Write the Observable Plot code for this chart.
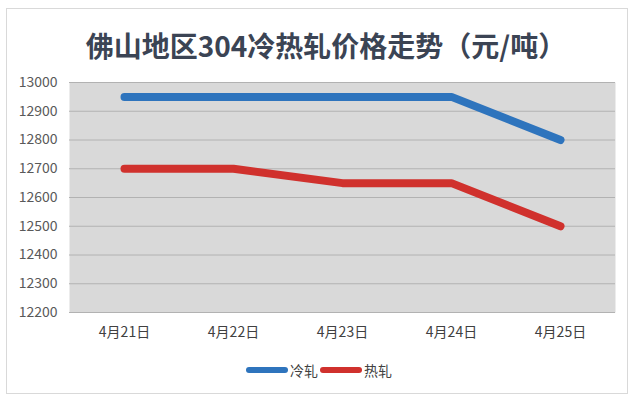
<!DOCTYPE html>
<html>
<head>
<meta charset="utf-8">
<script src="https://cdn.jsdelivr.net/npm/d3@7"></script>
<script src="https://cdn.jsdelivr.net/npm/@observablehq/plot@0.6"></script>
<style>
  html, body { margin: 0; padding: 0; background: #ffffff; }
  #wrap { position: relative; width: 640px; height: 397px; overflow: hidden; font-family: "Noto Sans CJK SC", "Noto Sans", sans-serif; }
  #box { position: absolute; left: 6px; top: 8px; width: 620px; height: 384px; border: 1px solid #d9d9d9; background: #fff; }
  #title { position: absolute; left: 6px; width: 640px; top: 25px; text-align: center; font-size: 28px; font-weight: 700; color: #3b4454; line-height: 40px; }
  #chart { position: absolute; left: 0; top: 70px; }
  #legend { position: absolute; top: 360px; left: 0; width: 640px; display: flex; justify-content: center; align-items: center; font-size: 14px; color: #404040; }
  .sw { display: inline-block; width: 42px; height: 6px; border-radius: 3px; margin-right: 2px; }
  .item { display: flex; align-items: center; margin-right: 2px; }
</style>
</head>
<body>
<div id="wrap">
  <div id="box"></div>
  <div id="title">佛山地区304冷热轧价格走势（元/吨）</div>
  <div id="chart"></div>
  <div id="legend"></div>
</div>
<script>
const dates = ["4月21日", "4月22日", "4月23日", "4月24日", "4月25日"];
const seriesNames = ["冷轧", "热轧"];
const coldRolled = [12950, 12950, 12950, 12950, 12800];
const hotRolled = [12700, 12700, 12650, 12650, 12500];
const seriesColors = ["#2e74bd", "#d0312d"];
const yTicks = [12200, 12300, 12400, 12500, 12600, 12700, 12800, 12900, 13000];

const data = [];
dates.forEach((d, i) => {
  data.push({date: d, series: seriesNames[0], value: coldRolled[i]});
  data.push({date: d, series: seriesNames[1], value: hotRolled[i]});
});

const chart = Plot.plot({
  width: 640,
  height: 270,
  marginLeft: 69,
  marginRight: 25,
  marginTop: 12,
  marginBottom: 28,
  style: {background: "transparent", fontFamily: "'Noto Sans CJK SC', 'Noto Sans', sans-serif"},
  x: {type: "point", domain: dates, padding: 0.5, label: null},
  y: {domain: [12200, 13000], label: null},
  color: {domain: seriesNames, range: seriesColors},
  marks: [
    Plot.frame({fill: "#d9d9d9", stroke: null}),
    Plot.gridY(yTicks, {stroke: "#b2b2b2", strokeOpacity: 1, strokeWidth: 1}),
    Plot.axisY(yTicks, {tickSize: 0, tickPadding: 12, tickFormat: d => String(d), fontSize: 14, fill: "#595959", label: null}),
    Plot.axisX({tickSize: 0, tickPadding: 15, fontSize: 14, fill: "#404040", label: null}),
    Plot.line(data, {x: "date", y: "value", z: "series", stroke: "series", strokeWidth: 8, strokeLinecap: "round", strokeLinejoin: "round"})
  ]
});
document.getElementById("chart").appendChild(chart);

const legend = document.getElementById("legend");
seriesNames.forEach((name, i) => {
  const item = document.createElement("div");
  item.className = "item";
  const sw = document.createElement("span");
  sw.className = "sw";
  sw.style.background = seriesColors[i];
  item.appendChild(sw);
  const t = document.createElement("span");
  t.textContent = name;
  item.appendChild(t);
  legend.appendChild(item);
});
</script>
</body>
</html>
